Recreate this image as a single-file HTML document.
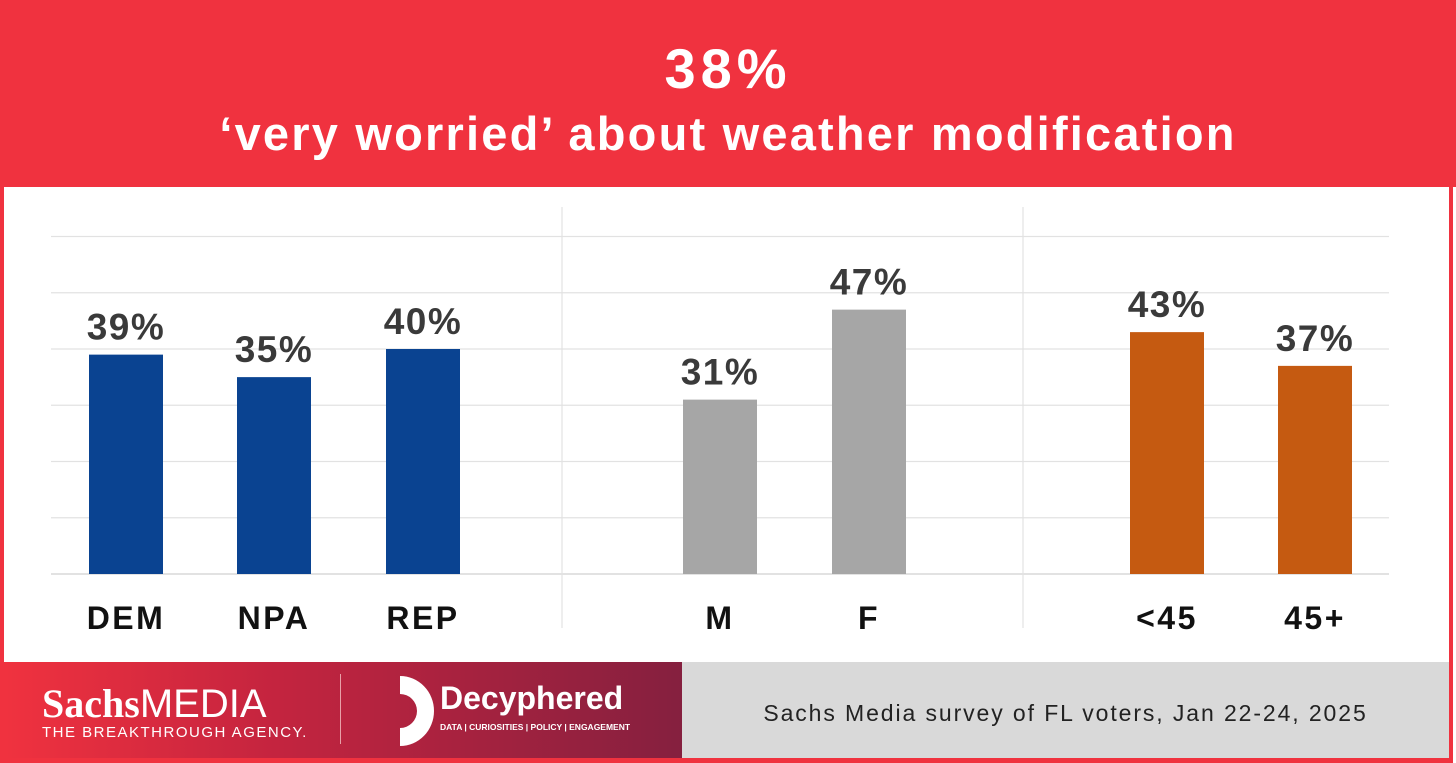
<!DOCTYPE html>
<html><head><meta charset="utf-8"><style>
body{margin:0;width:1456px;height:763px;overflow:hidden;background:#fff;font-family:"Liberation Sans",sans-serif}
#header{position:absolute;left:0;top:0;width:1456px;height:187px;background:#f0323f;color:#fff;text-align:center}
#frame{position:absolute;left:0;top:187px;height:571px;border-left:4px solid #f0323f;border-right:4px solid #f0323f;box-sizing:border-box;width:1453px}
#foot-left{position:absolute;left:4px;top:662px;width:678px;height:96px;background:linear-gradient(90deg,#f0323f,#c4243f 40%,#85203f)}
#foot-right{position:absolute;left:682px;top:662px;width:767px;height:96px;background:#d9d9d9}
#bottom{position:absolute;left:0;top:758px;width:1453px;height:5px;background:#f0323f}
</style></head><body>
<div id="header">
<div style="position:absolute;top:36px;width:100%;font-size:56px;font-weight:bold;letter-spacing:5px">38%</div>
<div style="position:absolute;top:106px;width:100%;font-size:47px;font-weight:bold;letter-spacing:2.2px">‘very worried’ about weather modification</div>
</div>
<div id="frame"></div>
<svg id="chart" width="1456" height="763" style="position:absolute;left:0;top:0"></svg>
<div id="foot-left">
<div style="position:absolute;left:38px;top:18px;color:#fff;font-size:40px;"><span style="font-family:'Liberation Serif',serif;font-weight:bold">Sachs</span><span>MEDIA</span></div>
<div style="position:absolute;left:38px;top:62px;color:#fff;font-size:15px;letter-spacing:1.5px">THE BREAKTHROUGH AGENCY.</div>
<div style="position:absolute;left:336px;top:12px;width:1px;height:70px;background:#e8a0a8"></div>
<svg style="position:absolute;left:388px;top:14px" width="44" height="70"><path d="M8,0 A34,35 0 0 1 8,70 L8,52 A17,17 0 0 0 8,18 Z" fill="#fff"/></svg>
<div style="position:absolute;left:436px;top:18px;color:#fff;font-size:32px;font-weight:bold">Decyphered</div>
<div style="position:absolute;left:436px;top:60px;color:#fff;font-size:8.5px;font-weight:bold">DATA | CURIOSITIES | POLICY | ENGAGEMENT</div>
</div>
<div id="foot-right">
<div style="position:absolute;left:0;width:767px;top:38px;text-align:center;font-size:23px;color:#222;letter-spacing:1.9px">Sachs Media survey of FL voters, Jan 22-24, 2025</div>
</div>
<div id="bottom"></div>
<script>
const categories=["DEM","NPA","REP","M","F","<45","45+"];
const values=[39,35,40,31,47,43,37];
const groups=[0,0,0,1,1,2,2];
const groupColors=["#0a4391","#a6a6a6","#c55a11"];
const gridTicks=[0,10,20,30,40,50,60];
const NS="http://www.w3.org/2000/svg";
const svg=document.getElementById('chart');
const y0=574,pxPer=5.625;
function y(v){return y0-v*pxPer;}
const centers=[126,274,423,720,869,1167,1315];
function mk(t,a){const e=document.createElementNS(NS,t);for(const k in a)e.setAttribute(k,a[k]);svg.appendChild(e);return e;}
gridTicks.forEach(t=>{const l=mk('line',{x1:51,x2:1389,y1:y(t),y2:y(t),stroke:t===0?'#d0d0d0':'#e2e2e2','stroke-width':1.2});

});
[562,1023].forEach(x=>{const l=mk('line',{x1:x,x2:x,y1:207,y2:628,stroke:'#e2e2e2','stroke-width':1.2});

});
categories.forEach((c,i)=>{const cx=centers[i],v=values[i];
const r=mk('rect',{x:cx-37,y:y(v),width:74,height:y(0)-y(v),fill:groupColors[groups[i]]});


const t=mk('text',{x:cx,y:y(v)-15,'text-anchor':'middle','font-size':37,'font-weight':'bold',fill:'#3a3a3a','letter-spacing':1.5,'font-family':'Liberation Sans, sans-serif'});t.textContent=v+'%';


const lb=mk('text',{x:cx,y:629,'text-anchor':'middle','font-size':32,'font-weight':'bold',fill:'#111','letter-spacing':2.5,'font-family':'Liberation Sans, sans-serif'});lb.textContent=c;

});
</script>
</body></html>
